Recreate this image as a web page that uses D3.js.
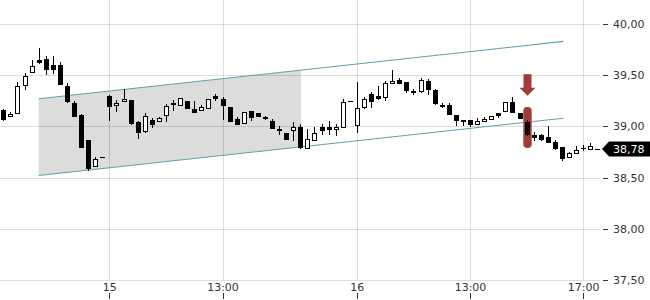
<!DOCTYPE html>
<html>
<head>
<meta charset="utf-8">
<script src="https://cdn.jsdelivr.net/npm/d3@7"></script>
<style>
body { margin: 0; background: #fff; }
svg { display: block; font-family: "DejaVu Sans", sans-serif; }
</style>
</head>
<body>
<script>
// 15 minute candles, index 0 = 14:00 on the 14th
var opens  = [39.16,39.10,39.13,39.40,39.53,39.65,39.66,39.60,39.60,39.39,39.23,39.11,38.87,38.61,38.70,
              39.30,39.21,39.25,39.26,39.04,38.95,39.06,39.05,39.11,39.23,39.21,39.25,39.17,39.16,39.18,
              39.30,39.27,39.19,39.07,39.03,39.15,39.13,39.09,39.05,38.97,38.94,38.96,38.99,38.79,38.87,
              38.99,38.99,38.97,39.00,39.25,39.01,39.19,39.32,39.30,39.28,39.42,39.45,39.43,39.35,39.34,
              39.44,39.36,39.21,39.21,39.11,39.06,39.06,39.02,39.05,39.07,39.13,39.15,39.24,39.13,39.04,
              38.92,38.92,38.90,38.85,38.80,38.70,38.74,38.79,38.78,38.78];
var highs  = [39.17,39.14,39.43,39.52,39.65,39.77,39.69,39.69,39.63,39.42,39.25,39.12,38.87,38.70,38.70,
              39.31,39.26,39.37,39.26,39.05,39.13,39.08,39.09,39.22,39.26,39.28,39.25,39.25,39.21,39.27,
              39.32,39.29,39.19,39.09,39.14,39.15,39.13,39.10,39.07,39.00,38.94,39.04,39.02,38.97,38.99,
              39.02,39.05,39.02,39.27,39.25,39.43,39.29,39.34,39.39,39.44,39.55,39.47,39.43,39.37,39.47,
              39.46,39.37,39.23,39.23,39.11,39.06,39.06,39.08,39.09,39.10,39.13,39.24,39.29,39.13,39.06,
              38.95,38.93,39.00,38.87,38.80,38.75,38.81,38.82,38.84,38.78];
var lows   = [39.06,39.10,39.13,39.37,39.53,39.62,39.51,39.52,39.41,39.24,39.10,38.80,38.57,38.61,38.70,
              39.06,39.15,39.25,39.02,38.89,38.95,38.99,39.05,39.05,39.16,39.21,39.18,39.14,39.16,39.18,
              39.26,39.07,39.05,39.02,39.03,39.06,39.10,39.07,38.98,38.93,38.88,38.87,38.79,38.79,38.87,
              38.93,38.93,38.92,39.00,39.25,38.95,39.18,39.19,39.27,39.26,39.42,39.42,39.34,39.32,39.34,
              39.32,39.22,39.19,39.12,39.01,39.01,39.00,39.02,39.05,39.07,39.09,39.15,39.14,39.08,38.92,
              38.87,38.87,38.85,38.78,38.67,38.70,38.74,38.77,38.78,38.78];
var closes = [39.07,39.12,39.39,39.49,39.59,39.63,39.56,39.56,39.41,39.24,39.10,38.80,38.60,38.68,38.70,
              39.20,39.23,39.27,39.04,38.94,39.10,39.02,39.08,39.20,39.22,39.28,39.18,39.14,39.19,39.27,
              39.28,39.21,39.05,39.02,39.14,39.09,39.10,39.08,38.98,38.96,38.88,38.99,38.79,38.88,38.94,
              38.96,38.97,38.99,39.24,39.25,39.18,39.27,39.25,39.28,39.42,39.44,39.42,39.35,39.34,39.45,
              39.36,39.23,39.20,39.12,39.06,39.05,39.02,39.05,39.07,39.10,39.11,39.24,39.14,39.08,38.92,
              38.90,38.88,38.85,38.79,38.69,38.74,38.77,38.79,38.81,38.78];

var xTickIndex  = [15, 31, 50, 66, 82];
var xTickLabels = ["15", "13:00", "16", "13:00", "17:00"];
var yTicks = [37.5, 38, 38.5, 39, 39.5, 40];

// trend channel: [candle index, price]
var channelUpper = [[5, 39.27], [79.2, 39.83]];
var channelLower = [[5, 38.52], [79.2, 39.08]];
var shadeEnd = 42.1;

// signal marker
var markIndex = 74;
var markTop = 39.19, markBottom = 38.79;
var arrowTop = 39.51, arrowTip = 39.30;
var lastPrice = 38.78;

var width = 650, height = 300;

var x = d3.scaleLinear().domain([0, 84]).range([3.3, 597.3]);
var y = d3.scaleLinear().domain([37.5, 40]).range([280, 24]);
var fmt = function (d) { return d3.format(".2f")(d).replace(".", ","); };
var px = function (v) { return Math.round(v) + 0.5; };

var svg = d3.select("body")
    .append("svg")
    .attr("width", width)
    .attr("height", height);

// shaded part of the channel
function lineAt(pts, i) {
    var t = (i - pts[0][0]) / (pts[1][0] - pts[0][0]);
    return pts[0][1] + t * (pts[1][1] - pts[0][1]);
}
var i0 = channelUpper[0][0];
svg.append("path")
    .attr("d", "M" + x(i0) + "," + y(lineAt(channelUpper, i0)) +
        "L" + x(shadeEnd) + "," + y(lineAt(channelUpper, shadeEnd)) +
        "L" + x(shadeEnd) + "," + y(lineAt(channelLower, shadeEnd)) +
        "L" + x(i0) + "," + y(lineAt(channelLower, i0)) + "Z")
    .attr("fill", "#dcdcdc");

// grid
svg.append("g").selectAll("line")
    .data(yTicks)
    .enter().append("line")
    .attr("x1", 0).attr("x2", 600)
    .attr("y1", d => px(y(d))).attr("y2", d => px(y(d)))
    .attr("stroke", "#000").attr("stroke-opacity", 0.13);

svg.append("g").selectAll("line")
    .data(xTickIndex)
    .enter().append("line")
    .attr("x1", d => px(x(d))).attr("x2", d => px(x(d)))
    .attr("y1", 0).attr("y2", 280)
    .attr("stroke", "#000").attr("stroke-opacity", 0.13);

// channel lines
[channelUpper, channelLower].forEach(function (pts) {
    svg.append("line")
        .attr("x1", x(pts[0][0])).attr("y1", y(pts[0][1]))
        .attr("x2", x(pts[1][0])).attr("y2", y(pts[1][1]))
        .attr("stroke", "#62a0a7").attr("stroke-width", 1.1);
});

// signal pill + arrow
var mx = Math.round(x(markIndex)) + 0.5;
svg.append("rect")
    .attr("x", mx - 4.2).attr("width", 8.4)
    .attr("y", y(markTop)).attr("height", y(markBottom) - y(markTop))
    .attr("rx", 4).attr("fill", "#a03c37");
svg.append("path")
    .attr("d", "M" + (mx - 4) + "," + y(arrowTop) + "H" + (mx + 4) + "V" + (y(arrowTip) - 8) +
        "H" + (mx + 8) + "L" + mx + "," + y(arrowTip) + "L" + (mx - 8) + "," + (y(arrowTip) - 8) +
        "H" + (mx - 4) + "Z")
    .attr("fill", "#a03c37");

// candles
var candles = d3.range(opens.length).map(function (i) {
    return { i: i, o: opens[i], h: highs[i], l: lows[i], c: closes[i] };
});

var g = svg.append("g").selectAll("g")
    .data(candles)
    .enter().append("g");

g.append("line")
    .attr("x1", d => Math.round(x(d.i)) + 0.5).attr("x2", d => Math.round(x(d.i)) + 0.5)
    .attr("y1", d => Math.round(y(d.h))).attr("y2", d => Math.round(y(d.l)) + 1)
    .attr("stroke", "#000");

g.append("rect")
    .attr("x", d => Math.round(x(d.i)) - 1.5)
    .attr("width", 4)
    .attr("y", d => px(y(Math.max(d.o, d.c))))
    .attr("height", d => Math.max(Math.round(Math.abs(y(d.o) - y(d.c))), 0.01))
    .attr("fill", d => d.c > d.o ? "#fff" : "#000")
    .attr("stroke", "#000");

// y axis
var ya = svg.append("g").selectAll("g")
    .data(yTicks)
    .enter().append("g");
ya.append("line")
    .attr("x1", 603).attr("x2", 608)
    .attr("y1", d => px(y(d))).attr("y2", d => px(y(d)))
    .attr("stroke", "#333");
ya.append("text")
    .attr("x", 613).attr("y", d => y(d) + 4)
    .attr("font-size", 11).attr("fill", "#333")
    .text(fmt);

// x axis
var xa = svg.append("g").selectAll("g")
    .data(xTickIndex)
    .enter().append("g");
xa.append("line")
    .attr("x1", d => px(x(d))).attr("x2", d => px(x(d)))
    .attr("y1", 293).attr("y2", 299)
    .attr("stroke", "#333");
xa.append("text")
    .attr("x", d => x(d) + 0.5).attr("y", 291)
    .attr("text-anchor", "middle")
    .attr("font-size", 11).attr("fill", "#333")
    .text((d, i) => xTickLabels[i]);

// last price tag
var ly = y(lastPrice);
svg.append("path")
    .attr("d", "M602," + ly + "L609," + (ly - 7.5) + "H650V" + (ly + 7.5) + "H609Z")
    .attr("fill", "#000");
svg.append("text")
    .attr("x", 613).attr("y", ly + 4)
    .attr("font-size", 11).attr("fill", "#fff")
    .text(fmt(lastPrice));
</script>
</body>
</html>
